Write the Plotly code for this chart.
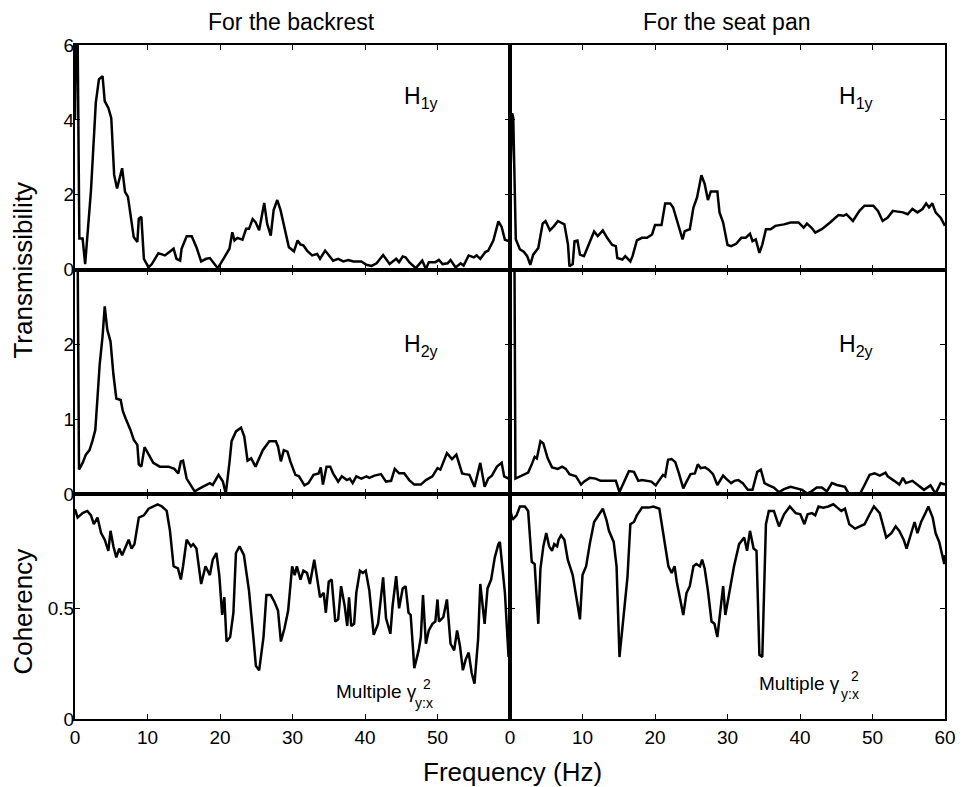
import plotly.graph_objects as go
from plotly.subplots import make_subplots

# ---------------- data ----------------
col_titles = ["For the backrest", "For the seat pan"]

# H1y, backrest
f_h1_back = [0, 0.15, 0.35, 0.6, 1.05, 1.4, 2.2, 2.87, 3.3, 3.8,
             4.1, 4.6, 5.0, 5.4, 5.8, 6.5, 6.9, 7.3, 8.1, 8.6,
             8.8, 9.15, 9.5, 10.15, 10.6, 11.5, 12.4, 13.6, 14.0, 14.5,
             14.7, 15.4, 16.1, 16.75, 17.4, 18.1, 18.6, 19.7, 20.6, 21.3,
             21.7, 22.0, 22.4, 23.1, 23.6, 24.0, 24.5, 24.9, 25.4, 26.1,
             26.5, 27.0, 27.4, 27.9, 28.35, 29.0, 29.5, 30.2, 30.7, 31.1,
             31.5, 32.0, 32.7, 33.4, 33.8, 34.5, 35.2, 35.6, 36.3, 37.0,
             37.7, 38.4, 39.5, 40.2, 40.9, 41.6, 42.5, 43.4, 44.3, 44.7,
             45.2, 45.6, 46.1, 47.0, 47.9, 48.4, 48.8, 49.7, 50.2, 50.7,
             51.4, 51.8, 52.5, 53.2, 53.6, 54.3, 55.0, 55.4, 55.9, 56.6,
             57.0, 57.7, 58.4, 58.85, 59.3, 59.8, 60]
h1_back = [4.0, 6.5, 6.5, 0.83, 0.83, 0.15, 2.1, 4.46, 5.08, 5.17,
           4.5, 4.32, 4.05, 2.53, 2.17, 2.71, 2.08, 1.95, 0.87, 0.74,
           1.36, 1.41, 0.29, 0.06, 0.15, 0.44, 0.38, 0.56, 0.29, 0.24,
           0.56, 0.89, 0.89, 0.60, 0.22, 0.29, 0.31, 0.04, 0.33, 0.56,
           1.0, 0.78, 0.85, 0.80, 1.09, 1.09, 1.35, 1.27, 1.05, 1.78,
           1.23, 0.91, 1.59, 1.86, 1.59, 1.05, 0.60, 0.49, 0.78, 0.67,
           0.65, 0.51, 0.38, 0.42, 0.29, 0.51, 0.33, 0.24, 0.29, 0.22,
           0.26, 0.22, 0.22, 0.13, 0.10, 0.17, 0.39, 0.15, 0.29, 0.20,
           0.35, 0.33, 0.20, 0.04, 0.24, 0.02, 0.20, 0.20, 0.26, 0.15,
           0.17, 0.26, 0.06, 0.17, 0.11, 0.38, 0.33, 0.38, 0.29, 0.47,
           0.51, 0.78, 1.29, 1.14, 0.80, 0.75, 0.75]

# H1y, seat pan
f_h1_seat = [0, 0.3, 0.45, 0.8, 1.37, 1.9, 2.37, 2.8, 3.2, 3.9,
             4.5, 4.9, 5.5, 6.1, 6.6, 7.5, 8.0, 8.2, 8.65, 8.9,
             9.3, 9.65, 10.2, 10.9, 11.6, 12.1, 12.8, 13.4, 14.1, 14.6,
             14.8, 15.5, 15.9, 16.6, 16.9, 17.5, 18.2, 18.9, 19.6, 20.0,
             20.9, 21.4, 22.1, 22.5, 23.2, 23.8, 24.1, 24.8, 25.3, 25.8,
             26.4, 26.85, 27.3, 27.7, 28.6, 28.9, 29.4, 30.0, 30.5, 31.2,
             31.9, 32.5, 33.1, 33.45, 33.9, 34.4, 34.8, 35.3, 35.95, 36.6,
             37.8, 38.7, 39.8, 40.5, 40.96, 41.6, 42.1, 43.0, 44.15, 45.3,
             46.0, 46.4, 47.3, 48.2, 48.9, 50.1, 50.75, 51.4, 52.1, 52.8,
             53.5, 54.2, 54.85, 55.5, 56.2, 56.9, 57.4, 57.8, 58.25, 58.7,
             59.4, 60]
h1_seat = [2.07, 4.18, 4.05, 0.81, 0.54, 0.48, 0.36, 0.13, 0.40, 0.58,
           1.23, 1.30, 1.05, 1.17, 1.30, 1.21, 0.67, 0.09, 0.15, 0.76,
           0.78, 0.40, 0.36, 0.69, 1.02, 0.90, 1.05, 0.85, 0.66, 0.63,
           0.31, 0.27, 0.36, 0.22, 0.36, 0.78, 0.85, 0.85, 0.94, 1.19,
           1.19, 1.77, 1.77, 1.66, 1.17, 0.81, 1.03, 1.08, 1.66, 1.93,
           2.52, 2.29, 1.86, 2.09, 2.09, 1.53, 1.26, 0.66, 0.63, 0.69,
           0.85, 0.85, 0.96, 0.76, 0.81, 0.45, 0.67, 1.08, 1.08, 1.17,
           1.21, 1.26, 1.26, 1.12, 1.23, 1.12, 0.99, 1.08, 1.26, 1.46,
           1.44, 1.48, 1.30, 1.57, 1.71, 1.71, 1.57, 1.30, 1.39, 1.57,
           1.55, 1.53, 1.48, 1.62, 1.53, 1.62, 1.77, 1.66, 1.77, 1.53,
           1.39, 1.17]

# H2y, backrest
f_h2_back = [0, 0.35, 0.55, 1.05, 1.5, 2.0, 2.4, 2.8, 3.1, 3.4,
             3.8, 4.1, 4.45, 4.9, 5.3, 5.7, 6.3, 6.6, 7.0, 7.65,
             8.1, 8.6, 8.8, 9.15, 9.6, 10.15, 10.8, 11.7, 12.9, 13.7,
             14.25, 14.6, 14.9, 15.4, 16.0, 16.5, 17.4, 18.1, 18.6, 19.0,
             19.8, 20.4, 20.8, 21.3, 21.6, 22.2, 22.9, 23.35, 23.8, 24.3,
             24.9, 25.9, 26.8, 27.7, 28.0, 28.4, 28.8, 29.3, 29.7, 30.4,
             30.9, 31.65, 32.2, 32.9, 33.6, 33.9, 34.2, 34.7, 35.2, 35.6,
             36.3, 36.8, 37.5, 37.9, 38.3, 38.8, 39.5, 40.2, 40.6, 41.3,
             42.2, 42.9, 43.6, 44.1, 44.7, 45.4, 46.1, 46.8, 47.7, 48.4,
             49.3, 50.0, 50.4, 51.3, 52.0, 52.6, 53.4, 53.8, 54.4, 55.1,
             55.9, 56.5, 57.0, 57.5, 58.2, 58.85, 59.2, 59.8, 60]
h2_back = [3.5, 3.5, 0.33, 0.42, 0.53, 0.59, 0.71, 0.86, 1.29, 1.73,
           2.11, 2.51, 2.20, 2.04, 1.60, 1.28, 1.26, 1.11, 1.01, 0.86,
           0.73, 0.66, 0.40, 0.37, 0.63, 0.53, 0.42, 0.37, 0.37, 0.34,
           0.28, 0.44, 0.45, 0.21, 0.125, 0.04, 0.09, 0.12, 0.15, 0.125,
           0.26, 0.17, 0.01, 0.42, 0.71, 0.84, 0.89, 0.77, 0.45, 0.48,
           0.37, 0.59, 0.71, 0.71, 0.64, 0.44, 0.59, 0.57, 0.44, 0.26,
           0.24, 0.12, 0.15, 0.26, 0.28, 0.36, 0.13, 0.37, 0.37, 0.28,
           0.17, 0.24, 0.19, 0.21, 0.15, 0.24, 0.21, 0.24, 0.22, 0.25,
           0.27, 0.17, 0.18, 0.34, 0.28, 0.28, 0.19, 0.13, 0.13, 0.19,
           0.24, 0.35, 0.33, 0.55, 0.47, 0.53, 0.28, 0.27, 0.26, 0.10,
           0.42, 0.10, 0.21, 0.25, 0.37, 0.42, 0.24, 0.21, 0.20]

# H2y, seat pan
f_h2_seat = [0, 0.6, 0.75, 1.37, 2.05, 2.5, 2.96, 3.4, 3.7, 4.2,
             4.6, 5.2, 5.8, 6.6, 7.2, 7.7, 8.2, 9.1, 9.8, 10.2,
             11.0, 11.8, 12.5, 14.6, 15.1, 15.7, 16.4, 17.1, 17.7, 18.2,
             18.75, 19.5, 20.1, 20.7, 21.1, 21.4, 21.8, 22.3, 22.8, 23.3,
             23.9, 24.35, 24.9, 25.5, 25.9, 26.3, 26.9, 27.4, 28.0, 28.6,
             29.4, 29.8, 30.5, 30.95, 31.5, 32.1, 32.8, 33.45, 34.1, 34.6,
             35.1, 35.7, 36.4, 37.1, 37.8, 38.7, 39.6, 40.3, 40.96, 41.6,
             42.3, 43.0, 43.7, 44.4, 45.1, 46.2, 46.7, 48.3, 48.9, 49.6,
             50.3, 51.0, 51.8, 52.1, 53.0, 53.7, 54.2, 54.6, 55.5, 56.2,
             57.1, 58.0, 58.7, 59.4, 60]
h2_seat = [3.5, 3.5, 0.21, 0.24, 0.27, 0.29, 0.39, 0.50, 0.48, 0.71,
           0.68, 0.48, 0.36, 0.34, 0.37, 0.34, 0.27, 0.24, 0.13, 0.17,
           0.22, 0.21, 0.18, 0.18, 0.03, 0.15, 0.31, 0.30, 0.18, 0.19,
           0.18, 0.17, 0.12, 0.21, 0.26, 0.24, 0.46, 0.47, 0.43, 0.28,
           0.08, 0.17, 0.27, 0.28, 0.40, 0.35, 0.36, 0.33, 0.27, 0.125,
           0.25, 0.21, 0.15, 0.18, 0.19, 0.15, 0.06, 0.06, 0.30, 0.33,
           0.15, 0.12, 0.09, 0.03, 0.07, 0.10, 0.08, 0.06, 0.01, 0.04,
           0.09, 0.09, 0.04, 0.15, 0.125, 0.10, 0.01, 0.01, 0.125, 0.26,
           0.28, 0.25, 0.29, 0.24, 0.18, 0.13, 0.22, 0.15, 0.18, 0.125,
           0.06, 0.12, 0.01, 0.15, 0.13]

# Multiple coherency, backrest
f_coh_back = [0, 0.36, 1.05, 1.7, 2.2, 2.6, 3.1, 3.6, 4.1, 4.6,
              4.9, 5.3, 5.7, 6.1, 6.5, 7.05, 7.4, 7.8, 8.2, 8.8,
              9.5, 10.15, 10.8, 11.4, 12.0, 12.65, 13.1, 13.6, 14.2, 14.6,
              14.9, 15.4, 16.0, 16.3, 16.75, 17.4, 18.0, 18.6, 19.0, 19.5,
              19.9, 20.3, 20.6, 20.9, 21.4, 21.85, 22.2, 22.7, 23.3, 24.0,
              24.6, 24.95, 25.4, 26.0, 26.4, 27.0, 27.5, 28.0, 28.4, 28.9,
              29.4, 29.95, 30.3, 30.6, 31.1, 31.5, 32.0, 32.4, 33.0, 33.4,
              33.8, 34.3, 34.6, 35.0, 35.4, 35.9, 36.3, 36.7, 37.2, 37.55,
              37.8, 38.1, 38.5, 38.8, 39.3, 39.7, 40.1, 40.6, 41.2, 41.8,
              42.5, 42.9, 43.5, 43.8, 44.3, 44.7, 45.2, 45.6, 46.0, 46.3,
              46.8, 47.4, 47.7, 48.0, 48.4, 48.8, 49.3, 49.7, 50.0, 50.2,
              50.8, 51.3, 51.8, 52.3, 52.7, 53.1, 53.5, 53.9, 54.3, 54.7,
              55.1, 55.6, 55.9, 56.5, 56.9, 57.4, 57.9, 58.4, 58.6, 59.3,
              59.8, 60]
coh_back = [0.948, 0.91, 0.93, 0.94, 0.92, 0.88, 0.91, 0.84, 0.81, 0.76,
            0.85, 0.78, 0.73, 0.77, 0.74, 0.78, 0.81, 0.77, 0.79, 0.91,
            0.92, 0.95, 0.96, 0.97, 0.96, 0.94, 0.85, 0.69, 0.68, 0.63,
            0.69, 0.81, 0.78, 0.79, 0.77, 0.61, 0.69, 0.65, 0.72, 0.75,
            0.65, 0.47, 0.55, 0.35, 0.37, 0.48, 0.75, 0.78, 0.74, 0.58,
            0.37, 0.24, 0.22, 0.37, 0.56, 0.56, 0.53, 0.49, 0.35, 0.41,
            0.49, 0.69, 0.65, 0.69, 0.63, 0.67, 0.66, 0.61, 0.72, 0.64,
            0.55, 0.57, 0.48, 0.62, 0.63, 0.44, 0.45, 0.60, 0.51, 0.42,
            0.55, 0.42, 0.43, 0.57, 0.67, 0.66, 0.67, 0.58, 0.38, 0.43,
            0.64, 0.455, 0.385, 0.51, 0.645, 0.50, 0.59, 0.60, 0.48, 0.47,
            0.23, 0.31, 0.37, 0.56, 0.34, 0.40, 0.43, 0.44, 0.54, 0.44,
            0.46, 0.54, 0.34, 0.31, 0.40, 0.33, 0.22, 0.27, 0.30, 0.21,
            0.16, 0.36, 0.61, 0.43, 0.59, 0.63, 0.73, 0.79, 0.80, 0.57,
            0.28, 0.29]

# Multiple coherency, seat pan
f_coh_seat = [0, 0.36, 0.9, 1.37, 2.05, 2.5, 3.0, 3.4, 3.9, 4.2,
              4.6, 5.0, 5.4, 5.8, 6.1, 6.5, 6.7, 7.05, 7.5, 7.97,
              8.65, 9.1, 9.65, 10.0, 10.5, 11.0, 11.6, 12.3, 12.8, 13.3,
              13.65, 14.3, 14.7, 15.1, 15.6, 16.2, 16.6, 17.1, 17.5, 18.2,
              19.1, 19.8, 20.6, 21.2, 21.85, 22.3, 22.7, 23.0, 23.45, 23.9,
              24.35, 24.8, 25.3, 25.7, 26.2, 26.5, 26.85, 27.3, 27.8, 28.2,
              28.6, 29.1, 29.4, 29.7, 30.3, 30.9, 31.6, 32.3, 32.7, 33.1,
              33.6, 34.0, 34.4, 34.8, 35.3, 35.7, 36.4, 37.1, 37.8, 38.6,
              39.4, 40.05, 40.6, 41.05, 41.65, 42.1, 42.55, 43.2, 43.9, 44.6,
              45.15, 45.7, 46.2, 46.8, 47.6, 48.3, 48.9, 49.6, 50.2, 51.0,
              51.4, 51.9, 52.6, 53.2, 53.7, 54.3, 54.7, 55.2, 55.8, 56.2,
              56.7, 57.3, 57.7, 58.3, 58.7, 59.2, 59.5, 59.9, 60]
coh_seat = [0.948, 0.90, 0.92, 0.96, 0.96, 0.94, 0.71, 0.70, 0.43, 0.68,
            0.78, 0.84, 0.78, 0.76, 0.79, 0.78, 0.81, 0.83, 0.81, 0.72,
            0.65, 0.56, 0.45, 0.65, 0.69, 0.79, 0.89, 0.925, 0.95, 0.90,
            0.85, 0.80, 0.69, 0.28, 0.455, 0.64, 0.88, 0.89, 0.92, 0.955,
            0.955, 0.96, 0.95, 0.82, 0.69, 0.66, 0.69, 0.62, 0.55, 0.47,
            0.57, 0.60, 0.69, 0.70, 0.69, 0.72, 0.68, 0.58, 0.44, 0.43,
            0.37, 0.50, 0.60, 0.47, 0.58, 0.69, 0.79, 0.82, 0.76, 0.85,
            0.77, 0.76, 0.29, 0.28, 0.88, 0.94, 0.94, 0.87, 0.925, 0.96,
            0.93, 0.925, 0.88, 0.925, 0.93, 0.92, 0.96, 0.955, 0.96, 0.97,
            0.955, 0.94, 0.95, 0.88, 0.86, 0.87, 0.88, 0.925, 0.96, 0.93,
            0.88, 0.82, 0.84, 0.87, 0.85, 0.81, 0.77, 0.82, 0.89, 0.84,
            0.89, 0.93, 0.96, 0.91, 0.84, 0.80, 0.76, 0.70, 0.74]

x_tickvals = [0, 10, 20, 30, 40, 50, 60]
x_ticktext_left = ["0", "10", "20", "30", "40", "50", ""]
x_ticktext_right = ["0", "10", "20", "30", "40", "50", "60"]

y_ranges = [[0, 6], [0, 3], [0, 1.015]]
y_tickvals = [[0, 2, 4, 6], [0, 1, 2], [0, 0.5]]
y_ticktext = [["0", "2", "4", "6"], ["0", "1", "2"], ["0", "0.5"]]

panel_labels = ["H<sub>1y</sub>", "H<sub>2y</sub>"]

# ---------------- figure ----------------
W, H = 968, 787
ML, MR, MT, MB = 75, 13, 45, 68
PW, PH = W - ML - MR, H - MT - MB

def px(x):
    return (x - ML) / PW

def py(y):
    return (H - MB - y) / PH

FONT = "Liberation Sans, Arial, sans-serif"

fig = make_subplots(rows=3, cols=2, horizontal_spacing=0, vertical_spacing=0)

series = [
    (1, 1, f_h1_back, h1_back), (1, 2, f_h1_seat, h1_seat),
    (2, 1, f_h2_back, h2_back), (2, 2, f_h2_seat, h2_seat),
    (3, 1, f_coh_back, coh_back), (3, 2, f_coh_seat, coh_seat),
]
for r, c, xs, ys in series:
    fig.add_trace(go.Scatter(x=xs, y=ys, mode="lines",
                             line=dict(color="black", width=2.5),
                             showlegend=False, hoverinfo="skip"),
                  row=r, col=c)

for r in range(1, 4):
    for c in range(1, 3):
        fig.update_xaxes(range=[0, 60], tickvals=x_tickvals,
                         ticktext=x_ticktext_left if c == 1 else x_ticktext_right,
                         showticklabels=(r == 3),
                         ticks="inside", ticklen=5, tickwidth=1.2, tickcolor="black",
                         showline=True, linecolor="black", linewidth=2,
                         mirror="ticks", showgrid=False, zeroline=False,
                         tickfont=dict(family=FONT, size=19, color="black"),
                         row=r, col=c)
        fig.update_yaxes(range=y_ranges[r - 1], tickvals=y_tickvals[r - 1],
                         ticktext=y_ticktext[r - 1],
                         showticklabels=(c == 1),
                         ticks="inside", ticklen=5, tickwidth=1.2, tickcolor="black",
                         ticklabelstandoff=-5,
                         showline=True, linecolor="black", linewidth=2,
                         mirror="ticks", showgrid=False, zeroline=False,
                         tickfont=dict(family=FONT, size=19, color="black"),
                         row=r, col=c)

ann = []
# column titles
ann.append(dict(text=col_titles[0], x=px(294), y=py(22), font=dict(size=23)))
ann.append(dict(text=col_titles[1], x=px(734), y=py(22), font=dict(size=23)))
# axis titles
ann.append(dict(text="Transmissibility", x=px(22), y=py(270), textangle=-90, font=dict(size=26)))
ann.append(dict(text="Coherency", x=px(22), y=py(612), textangle=-90, font=dict(size=26)))
ann.append(dict(text="Frequency (Hz)", x=px(518), y=py(772), font=dict(size=26)))
# panel labels
for xp in (406, 846):
    ann.append(dict(text=panel_labels[0], x=px(xp), y=py(97), xanchor="left", font=dict(size=23)))
    ann.append(dict(text=panel_labels[1], x=px(xp), y=py(345), xanchor="left", font=dict(size=23)))
# Multiple gamma^2_{y:x}
for (xr, ym, x2, y2, xs, ys) in [(423, 691, 425, 684, 417, 703), (851, 683, 858, 676, 848, 694)]:
    ann.append(dict(text="Multiple \u03b3", x=px(xr), y=py(ym), xanchor="right", font=dict(size=19)))
    ann.append(dict(text="2", x=px(x2), y=py(y2), xanchor="left", font=dict(size=14)))
    ann.append(dict(text="y:x", x=px(xs), y=py(ys), xanchor="left", font=dict(size=14)))

for a in ann:
    a.setdefault("xanchor", "center")
    a.setdefault("yanchor", "middle")
    a["xref"] = "paper"
    a["yref"] = "paper"
    a["showarrow"] = False
    a["font"] = dict(family=FONT, color="black", **a["font"])

fig.update_layout(width=W, height=H,
                  margin=dict(l=ML, r=MR, t=MT, b=MB),
                  paper_bgcolor="white", plot_bgcolor="white",
                  annotations=ann,
                  font=dict(family=FONT, color="black"))

# remove the default 8px page margin so the figure fills the window exactly
fig.write_html("out.html",
               config={"displayModeBar": False},
               post_script="document.body.style.margin='0';"
                           "document.body.style.overflow='hidden';")
